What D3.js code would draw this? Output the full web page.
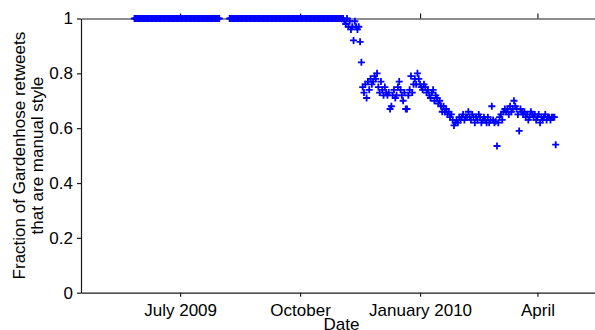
<!DOCTYPE html>
<html lang="en">
	<head>
		<meta charset="utf-8">
		<title>Manual retweets</title>
		<script type="text/javascript" src="https://cdn.jsdelivr.net/npm/d3@7"></script>
		<style type="text/css">
			body { margin: 0; background: #fff; }
			text { font-family: "Liberation Sans", Arial, sans-serif; }
		</style>
	</head>
	<body>
		<script type="text/javascript">

			// Daily fraction of manual-style retweets, split into runs of consecutive days
			var summerStart = "2009-05-27";
			var summerValues = [
				1,1,1,1,1,1,1,1,1,1, 1,1,1,1,1,1,1,1,1,1, 1,1,1,1,1,1,1,1,1,1,
				1,1,1,1,1,1,1,1,1,1, 1,1,1,1,1,1,1,1,1,1, 1,1,1,1,1,1,1,1,1,1,
				1,1,1,1,1,1
			];

			var autumnStart = "2009-08-08";
			var autumnValues = [
				1,1,1,1,1,1,1,1,1,1, 1,1,1,1,1,1,1,1,1,1, 1,1,1,1,1,1,1,1,1,1,
				1,1,1,1,1,1,1,1,1,1, 1,1,1,1,1,1,1,1,1,1, 1,1,1,1,1,1,1,1,1,1,
				1,1,1,1,1,1,1,1,1,1, 1,1,1,1,1,1,1,1,1,1, 1,1,1,1,1,1,1
			];

			var switchStart = "2009-11-03";
			var switchValues = [
				1, 0.99, 0.98, 1, 0.97, 0.99, 0.96, 0.97, 0.92, 0.99,
				0.97, 0.96, 0.97, 0.915, 0.84, 0.75, 0.73, 0.76, 0.71, 0.77,
				0.74, 0.78, 0.76, 0.77, 0.79, 0.78, 0.80, 0.75, 0.73, 0.77,
				0.74, 0.72, 0.75, 0.73, 0.72, 0.73, 0.67, 0.68, 0.72, 0.74,
				0.71, 0.72, 0.75, 0.77, 0.74, 0.72, 0.70, 0.73, 0.67, 0.67,
				0.72, 0.74, 0.79, 0.73, 0.76, 0.78, 0.76, 0.80, 0.78, 0.76,
				0.75, 0.74, 0.76, 0.75, 0.73, 0.74, 0.72, 0.71, 0.73, 0.74,
				0.70, 0.72, 0.71, 0.69, 0.70, 0.68, 0.66, 0.68, 0.66, 0.67,
				0.65, 0.66, 0.64, 0.65, 0.63, 0.61, 0.62, 0.63, 0.62, 0.64,
				0.63, 0.64, 0.65, 0.63, 0.64, 0.64, 0.66, 0.64, 0.63, 0.65,
				0.64, 0.62, 0.64, 0.63, 0.65, 0.64, 0.62, 0.63, 0.64, 0.63,
				0.62, 0.64, 0.62, 0.63, 0.68, 0.63, 0.62, 0.625, 0.535, 0.62,
				0.64, 0.65, 0.63, 0.66, 0.67, 0.66, 0.67, 0.65, 0.68, 0.66,
				0.67, 0.70, 0.68, 0.67, 0.65, 0.59, 0.67, 0.66, 0.65, 0.66,
				0.64, 0.65, 0.63, 0.64, 0.66, 0.65, 0.64, 0.65, 0.63, 0.64,
				0.65, 0.62, 0.64, 0.63, 0.64, 0.65, 0.63, 0.64, 0.64, 0.63,
				0.64, 0.64, 0.64, 0.54
			];

			var xDomain = ["2009-04-16", "2010-05-20T12:00"];
			var xTicks = ["2009-07-01", "2009-10-01", "2010-01-01", "2010-04-01"];
			var xTickLabels = ["July 2009", "October", "January 2010", "April"];
			var yTicks = [0, 0.2, 0.4, 0.6, 0.8, 1];
			var yTickLabels = ["0", "0.2", "0.4", "0.6", "0.8", "1"];

			//Width and height
			var w = 595;
			var h = 330;
			var plotLeft = 81, plotRight = 602, plotTop = 18.5, plotBottom = 292.7;

			var parse = function(s) { return new Date(s + (s.length > 10 ? "Z" : "T00:00Z")); };

			var dataset = [];
			[[summerStart, summerValues], [autumnStart, autumnValues], [switchStart, switchValues]].forEach(function(run) {
				var start = parse(run[0]);
				run[1].forEach(function(v, i) {
					dataset.push({ date: d3.utcDay.offset(start, i), value: v });
				});
			});

			var xScale = d3.scaleUtc()
				.domain(xDomain.map(parse))
				.range([plotLeft, plotRight]);

			var yScale = d3.scaleLinear()
				.domain([0, 1])
				.range([plotBottom, plotTop]);

			var svg = d3.select("body")
				.append("svg")
				.attr("width", w)
				.attr("height", h);

			var fontSize = "17px";

			//X axis (bottom)
			var xAxis = d3.axisBottom(xScale)
				.tickValues(xTicks.map(parse))
				.tickFormat(function(d, i) { return xTickLabels[i]; })
				.tickSize(4)
				.tickSizeOuter(0)
				.tickPadding(7);

			//Top axis, ticks only
			var xAxisTop = d3.axisTop(xScale)
				.tickValues(xTicks.map(parse))
				.tickFormat("")
				.tickSize(5)
				.tickSizeOuter(0);

			//Y axis
			var yAxis = d3.axisLeft(yScale)
				.tickValues(yTicks)
				.tickFormat(function(d, i) { return yTickLabels[i]; })
				.tickSize(4)
				.tickSizeOuter(0)
				.tickPadding(4);

			svg.append("g")
				.attr("class", "x axis")
				.attr("transform", "translate(0," + plotBottom + ")")
				.call(xAxis);

			svg.append("g")
				.attr("class", "x2 axis")
				.attr("transform", "translate(0," + plotTop + ")")
				.call(xAxisTop);

			svg.append("g")
				.attr("class", "y axis")
				.attr("transform", "translate(" + plotLeft + ",0)")
				.call(yAxis);

			svg.selectAll(".axis path, .axis line")
				.attr("stroke", "#1a1a1a")
				.attr("stroke-width", 1.2);

			svg.selectAll(".axis text")
				.attr("font-size", fontSize)
				.attr("fill", "#000");

			//Plus markers
			svg.append("g")
				.selectAll("path")
				.data(dataset)
				.enter()
				.append("path")
				.attr("transform", function(d) {
					return "translate(" + xScale(d.date) + "," + yScale(d.value) + ")";
				})
				.attr("d", "M-3.5,0H3.5M0,-3.5V3.5")
				.attr("stroke", "#0000ff")
				.attr("stroke-width", 1.8)
				.attr("fill", "none");

			//Axis titles
			var yLabel = svg.append("text")
				.attr("transform", "translate(0," + ((plotTop + plotBottom) / 2) + ") rotate(-90)")
				.attr("text-anchor", "middle")
				.attr("font-size", fontSize)
				.attr("fill", "#000");
			yLabel.append("tspan").attr("x", 0).attr("y", 25).text("Fraction of Gardenhose retweets");
			yLabel.append("tspan").attr("x", 0).attr("y", 43).text("that are manual style");

			svg.append("text")
				.attr("x", (plotLeft + plotRight) / 2)
				.attr("y", 330)
				.attr("text-anchor", "middle")
				.attr("font-size", fontSize)
				.attr("fill", "#000")
				.text("Date");

		</script>
	</body>
</html>
